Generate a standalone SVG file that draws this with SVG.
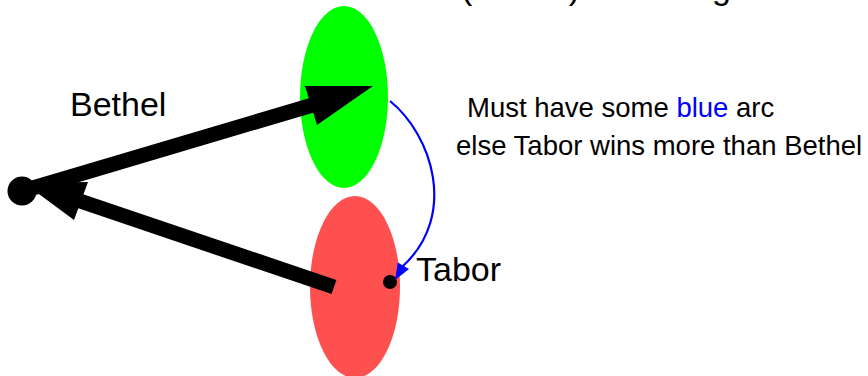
<svg xmlns="http://www.w3.org/2000/svg" width="868" height="376" viewBox="0 0 868 376">
  <style>
    text { font-family: "Liberation Sans", Arial, sans-serif; fill: #000; }
    .big { font-size: 34px; }
    .small { font-size: 27.5px; }
    .blue { fill: #0000ff; }
    .thick { stroke: #000; stroke-width: 15; fill: none; }
    .head { fill: #000; }
    .arc { stroke: #0000ff; stroke-width: 2.2; fill: none; }
  </style>
  <rect width="868" height="376" fill="#ffffff"/>

  <g id="title">
    <text class="big" x="461" y="-1">(Bethel)</text>
    <text class="big" x="731" y="-1" text-anchor="end">wins big</text>
  </g>

  <g id="node-bethel">
    <ellipse cx="344" cy="97" rx="44" ry="91" fill="#00ff00"/>
  </g>

  <g id="node-tabor">
    <ellipse cx="355" cy="287" rx="45" ry="91" fill="#ff5050"/>
    <circle cx="390" cy="282" r="7" fill="#000"/>
    <text class="big" x="416" y="281">Tabor</text>
  </g>

  <g id="node-source">
    <circle cx="22" cy="191" r="14.5" fill="#000"/>
  </g>

  <g id="label-bethel">
    <text class="big" x="70" y="116">Bethel</text>
  </g>

  <g id="note">
    <text class="small" x="467" y="117">Must have some <tspan class="blue">blue</tspan> arc</text>
    <text class="small" x="456" y="155">else Tabor wins more than Bethel</text>
  </g>

  <g id="connectors">
    <line class="thick" x1="26" y1="190" x2="316" y2="104"/>
    <polygon class="head" points="373,86 305,86 317,125"/>
    <line class="thick" x1="334" y1="287" x2="80" y2="201" style="stroke-linecap:butt"/>
    <polygon class="head" points="24,183 88,182 74,220"/>
    <path class="arc" d="M 390 101 C 432 135, 458 215, 403 266"/>
    <polygon fill="#0000ff" points="395,280 397.8,262.5 409,269"/>
  </g>
</svg>
